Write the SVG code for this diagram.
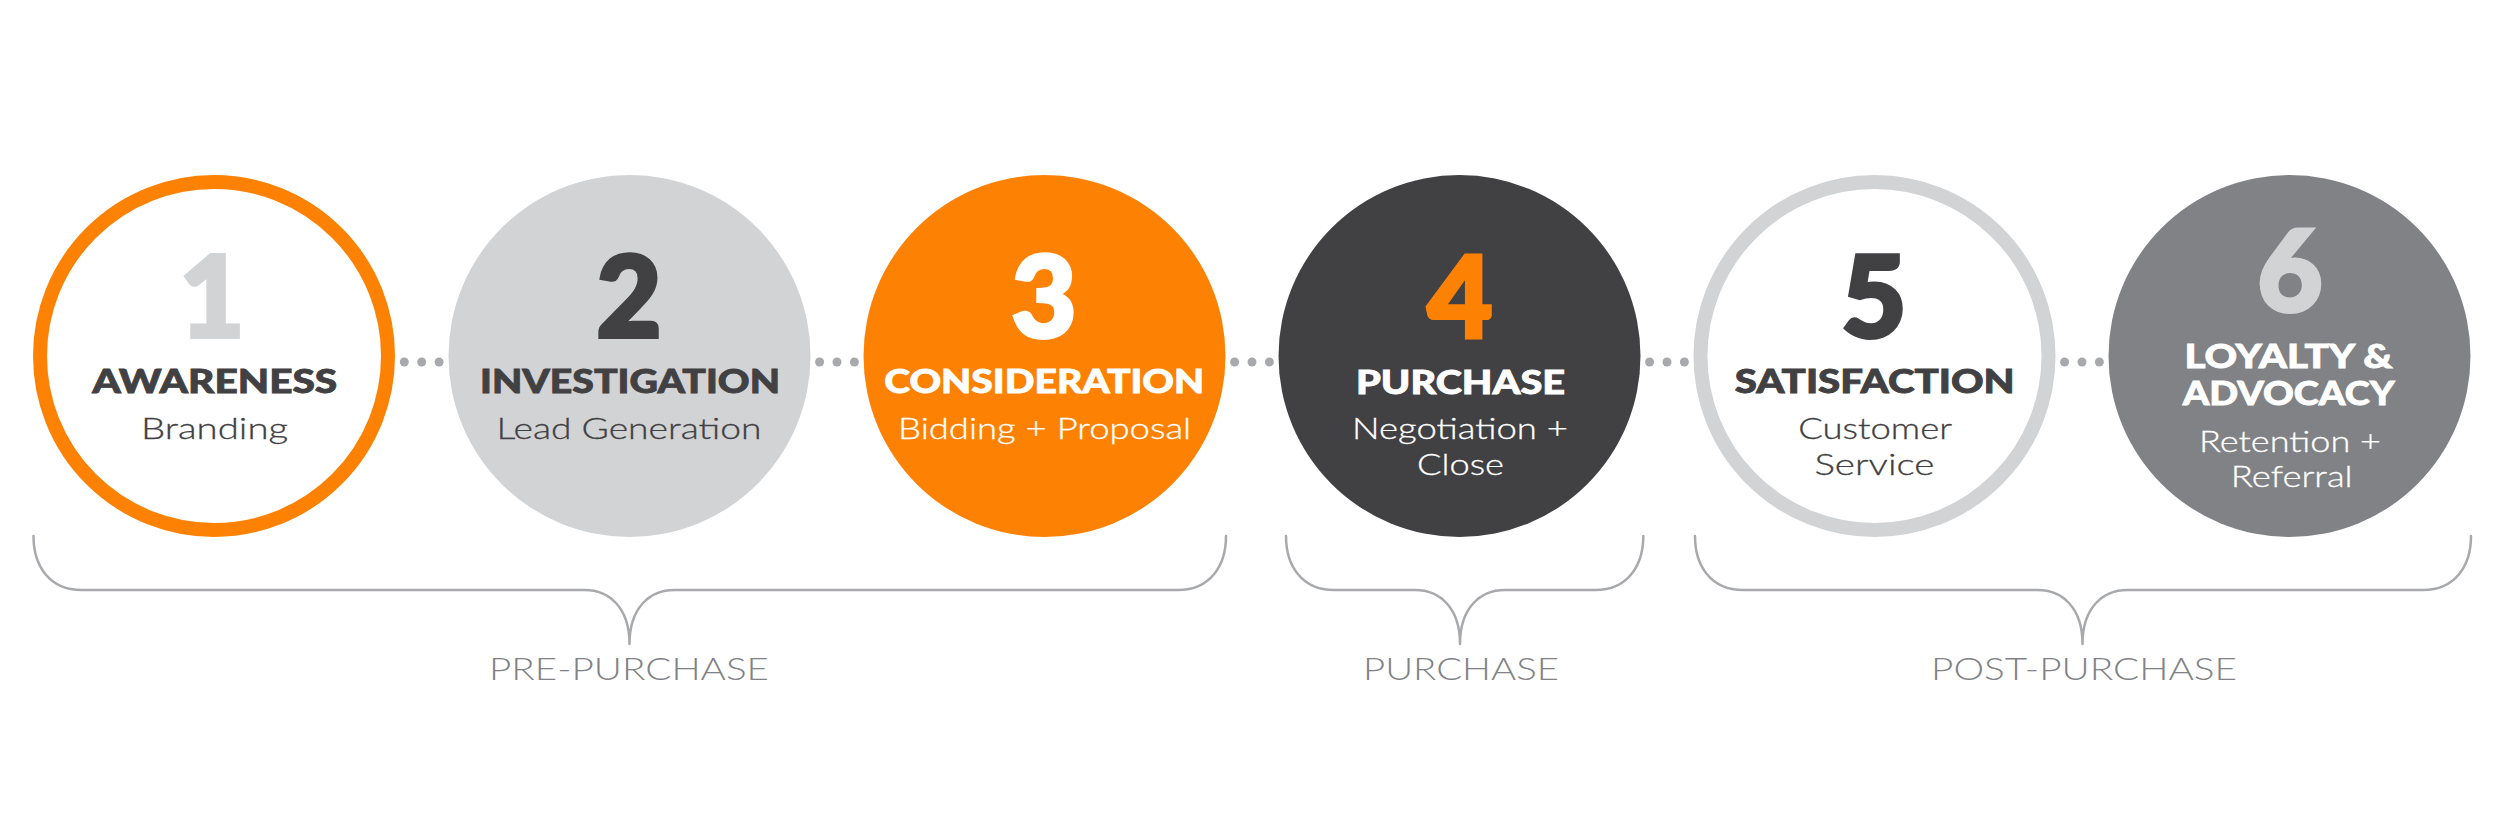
<svg xmlns="http://www.w3.org/2000/svg" width="2501" height="834" viewBox="0 0 2501 834">
<style>
.num{font-family:"Lato","Open Sans",sans-serif;font-weight:900;font-size:112px;text-anchor:middle;stroke-width:4;stroke-linejoin:miter}
.hd{font-family:"Lato","Open Sans",sans-serif;font-weight:900;font-size:32px;text-anchor:middle;stroke-width:0.8}
.sub{font-family:"Lato","Open Sans",sans-serif;font-weight:300;font-size:30px;text-anchor:middle;stroke-width:0.3}
.lbl{font-family:"Lato","Open Sans",sans-serif;font-weight:300;font-size:32px;text-anchor:middle;fill:#808285}
.dot{fill:#a7a9ac}
.brace{fill:none;stroke:#a7a9ac;stroke-width:2.5;stroke-linecap:round;stroke-linejoin:round}
</style>
<rect width="2501" height="834" fill="#ffffff"/>
<g id="connectors">
<circle class="dot" cx="404.3" cy="362" r="4.5"/><circle class="dot" cx="421.7" cy="362" r="4.5"/><circle class="dot" cx="439.1" cy="362" r="4.5"/>
<circle class="dot" cx="819.6" cy="362" r="4.5"/><circle class="dot" cx="837" cy="362" r="4.5"/><circle class="dot" cx="854.4" cy="362" r="4.5"/>
<circle class="dot" cx="1234.6" cy="362" r="4.5"/><circle class="dot" cx="1252" cy="362" r="4.5"/><circle class="dot" cx="1269.4" cy="362" r="4.5"/>
<circle class="dot" cx="1649.6" cy="362" r="4.5"/><circle class="dot" cx="1667" cy="362" r="4.5"/><circle class="dot" cx="1684.4" cy="362" r="4.5"/>
<circle class="dot" cx="2064.6" cy="362" r="4.5"/><circle class="dot" cx="2082" cy="362" r="4.5"/><circle class="dot" cx="2099.4" cy="362" r="4.5"/>
</g>
<g id="node1">
<circle cx="214" cy="356" r="174" fill="#ffffff" stroke="#fd8204" stroke-width="14"/>
<text class="num" x="212" y="337" fill="#d1d3d4" stroke="#d1d3d4">1</text>
<text class="hd" x="214.7" y="393" fill="#414042" stroke="#414042" textLength="245" lengthAdjust="spacingAndGlyphs">AWARENESS</text>
<text class="sub" x="214.6" y="439" fill="#414042" stroke="#414042" textLength="147" lengthAdjust="spacingAndGlyphs">Branding</text>
</g>
<g id="node2">
<circle cx="629.5" cy="356" r="181" fill="#d1d3d4"/>
<text class="num" x="629" y="337" fill="#414042" stroke="#414042">2</text>
<text class="hd" x="630" y="393" fill="#414042" stroke="#414042" textLength="300" lengthAdjust="spacingAndGlyphs">INVESTIGATION</text>
<text class="sub" x="629" y="439" fill="#414042" stroke="#414042" textLength="265" lengthAdjust="spacingAndGlyphs">Lead Generation</text>
</g>
<g id="node3">
<circle cx="1044.5" cy="356" r="181" fill="#fd8204"/>
<text class="num" x="1044" y="337" fill="#ffffff" stroke="#ffffff">3</text>
<text class="hd" x="1044.3" y="393" fill="#ffffff" stroke="#ffffff" textLength="320" lengthAdjust="spacingAndGlyphs">CONSIDERATION</text>
<text class="sub" x="1044.6" y="439" fill="#ffffff" stroke="#ffffff" textLength="293" lengthAdjust="spacingAndGlyphs">Bidding + Proposal</text>
</g>
<g id="node4">
<circle cx="1459.5" cy="356" r="181" fill="#414042"/>
<text class="num" x="1460" y="337" fill="#fd8204" stroke="#fd8204">4</text>
<text class="hd" x="1460.5" y="394" fill="#ffffff" stroke="#ffffff" textLength="209" lengthAdjust="spacingAndGlyphs">PURCHASE</text>
<text class="sub" x="1460" y="439" fill="#ffffff" stroke="#ffffff" textLength="216" lengthAdjust="spacingAndGlyphs">Negotiation +</text>
<text class="sub" x="1460.5" y="475" fill="#ffffff" stroke="#ffffff" textLength="87" lengthAdjust="spacingAndGlyphs">Close</text>
</g>
<g id="node5">
<circle cx="1874.5" cy="356" r="174" fill="#ffffff" stroke="#d1d3d4" stroke-width="14"/>
<text class="num" x="1874" y="337" fill="#414042" stroke="#414042">5</text>
<text class="hd" x="1874.7" y="393" fill="#414042" stroke="#414042" textLength="280" lengthAdjust="spacingAndGlyphs">SATISFACTION</text>
<text class="sub" x="1875.2" y="439" fill="#414042" stroke="#414042" textLength="154" lengthAdjust="spacingAndGlyphs">Customer</text>
<text class="sub" x="1874.4" y="475" fill="#414042" stroke="#414042" textLength="120" lengthAdjust="spacingAndGlyphs">Service</text>
</g>
<g id="node6">
<circle cx="2289.5" cy="356" r="181" fill="#808285"/>
<text class="num" x="2290" y="311" fill="#d1d3d4" stroke="#d1d3d4">6</text>
<text class="hd" x="2288.5" y="368" fill="#ffffff" stroke="#ffffff" textLength="208" lengthAdjust="spacingAndGlyphs">LOYALTY &amp;</text>
<text class="hd" x="2288.7" y="405" fill="#ffffff" stroke="#ffffff" textLength="212" lengthAdjust="spacingAndGlyphs">ADVOCACY</text>
<text class="sub" x="2290" y="452" fill="#ffffff" stroke="#ffffff" textLength="182" lengthAdjust="spacingAndGlyphs">Retention +</text>
<text class="sub" x="2291.7" y="487" fill="#ffffff" stroke="#ffffff" textLength="122" lengthAdjust="spacingAndGlyphs">Referral</text>
</g>
<g id="brace-pre">
<path class="brace" d="M33.5 536 C33.5 566 49.5 590 81.5 590 L584.5 590 C609.5 590 629.5 608 629.5 644 C629.5 608 649.5 590 674.5 590 L1178 590 C1210 590 1226 566 1226 536"/>
<text class="lbl" x="629" y="680" textLength="280" lengthAdjust="spacingAndGlyphs">PRE-PURCHASE</text>
</g>
<g id="brace-purchase">
<path class="brace" d="M1286 536 C1286 566 1302 590 1334 590 L1415 590 C1440 590 1460 608 1460 644 C1460 608 1480 590 1505 590 L1595.3 590 C1627.3 590 1643.3 566 1643.3 536"/>
<text class="lbl" x="1461" y="680" textLength="196" lengthAdjust="spacingAndGlyphs">PURCHASE</text>
</g>
<g id="brace-post">
<path class="brace" d="M1695 536 C1695 566 1711 590 1743 590 L2037.5 590 C2062.5 590 2082.5 608 2082.5 644 C2082.5 608 2102.5 590 2127.5 590 L2423 590 C2455 590 2471 566 2471 536"/>
<text class="lbl" x="2084" y="680" textLength="306" lengthAdjust="spacingAndGlyphs">POST-PURCHASE</text>
</g>
</svg>
